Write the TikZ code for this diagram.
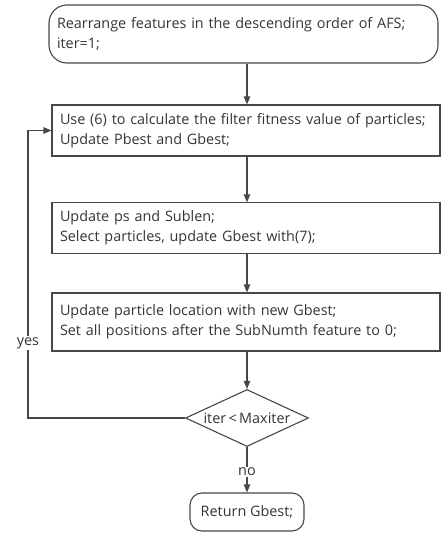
\documentclass[tikz,border=0pt]{standalone}
\usepackage{fontspec}
\setmainfont{Open Sans}
\usetikzlibrary{shapes.geometric,arrows.meta}
\definecolor{ln}{HTML}{474747}
\definecolor{tx}{HTML}{353535}
\begin{document}
\begin{tikzpicture}[x=1pt,y=1pt,
  font=\fontsize{14.4}{20}\selectfont,
  every node/.style={text=tx},
  box/.style={draw=ln,line width=1.1pt,minimum width=388pt,text width=372pt,align=left,inner sep=8pt},
  term/.style={draw=ln,line width=1.1pt,rounded corners=18pt,align=left},
  dec/.style={draw=ln,line width=1.1pt,diamond,aspect=2.15,inner sep=0pt,minimum width=123pt,minimum height=57pt},
  arr/.style={draw=ln,line width=1.1pt,-{Triangle[length=8pt,width=6.5pt]}},
  lab/.style={fill=white,inner sep=1.5pt}]
\useasboundingbox (0,0) rectangle (441,-533);
\node[term,minimum width=389pt,minimum height=58pt,text width=373pt,inner sep=8pt] (start) at (243.5,-34) {Rearrange features in the descending order of AFS;\\iter=1;};
\node[box,minimum height=51pt] (b1) at (246,-130.5) {Use (6) to calculate the filter fitness value of particles;\\Update Pbest and Gbest;};
\node[box,minimum height=50pt] (b2) at (246,-228) {Update ps and Sublen;\\Select particles, update Gbest with(7);};
\node[box,minimum height=58pt] (b3) at (246,-322) {Update particle location with new Gbest;\\Set all positions after the SubNumth feature to 0;};
\node[dec] (d) at (247,-418) {iter\,<\,Maxiter};
\node[term,rounded corners=12pt,minimum width=114pt,minimum height=38pt,align=center] (ret) at (247,-512) {Return Gbest;};
\coordinate (lp) at (28,-418);
\draw[arr] (start.south -| 247,0) -- (b1.north -| 247,0);
\draw[arr] (b1.south -| 247,0) -- (b2.north -| 247,0);
\draw[arr] (b2.south -| 247,0) -- (b3.north -| 247,0);
\draw[arr] (b3.south -| 247,0) -- (d.north);
\draw[arr] (d.west) -- (lp) |- (b1.west);
\node[lab] (yes) at (28,-343) {yes};
\draw[arr] (d.south) -- (ret.north);
\node[lab] (no) at (247,-472) {no};
\end{tikzpicture}
\end{document}
